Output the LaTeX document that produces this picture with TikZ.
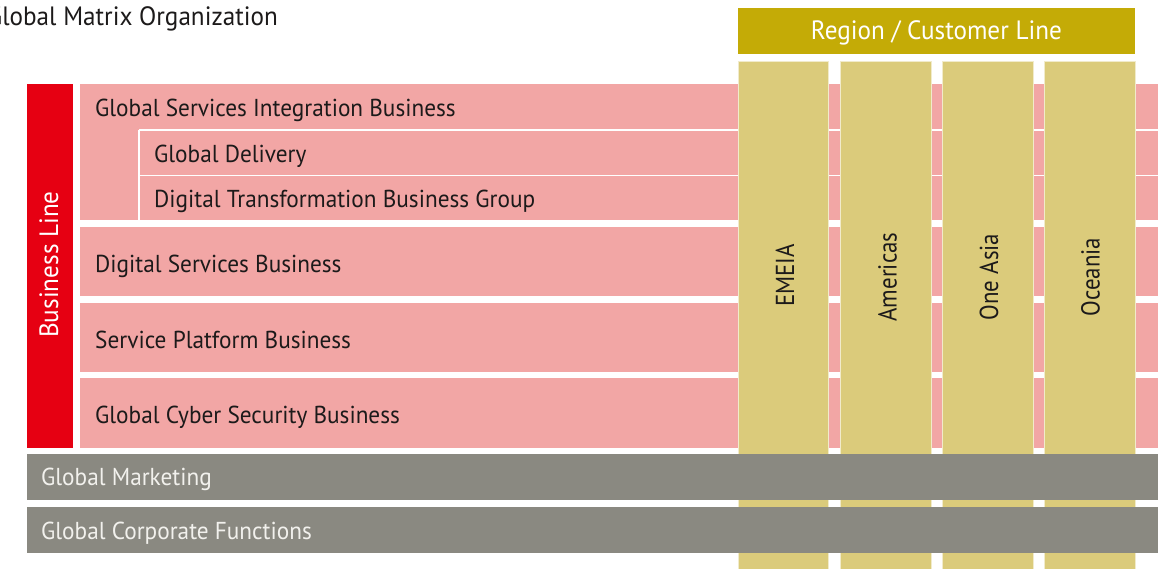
\documentclass[tikz,border=0pt]{standalone}
\usepackage{fontspec}
\setmainfont{PT Sans}[FakeStretch=0.95]
\newfontfamily\colfont{PT Sans}[FakeStretch=0.88]
\definecolor{bizred}{HTML}{E60012}
\definecolor{bizpink}{HTML}{F2A6A5}
\definecolor{regiongold}{HTML}{C4AB06}
\definecolor{colgold}{HTML}{DBCB7B}
\definecolor{colrim}{HTML}{F1EBCB}
\definecolor{corpgray}{HTML}{8A8981}
\definecolor{inkdark}{HTML}{1C1A1A}
\definecolor{inklight}{HTML}{F2F1ED}
\tikzset{
  lbl/.style={font=\fontsize{24.5}{28}\selectfont, inner sep=0pt, anchor=base west},
  rowlbl/.style={lbl, text=inkdark},
  graylbl/.style={lbl, text=inklight},
  biglbl/.style={font=\fontsize{26.5}{30}\selectfont, inner sep=0pt},
  vlbl/.style={font=\colfont\fontsize{26}{30}\selectfont, inner sep=0pt, anchor=base, rotate=90},
  pinkbox/.style={fill=bizpink, draw=none},
  graybox/.style={fill=corpgray, draw=none},
  goldcol/.style={fill=colgold, draw=colrim, line width=0.8pt},
  sep/.style={draw=white, line width=1.6pt}
}
\begin{document}
\begin{tikzpicture}[x=1pt, y=-1pt]
\useasboundingbox (0,0) rectangle (1173,569);

% title, its first letter runs past the left edge
\node[biglbl, anchor=base east, text=inkdark] (title) at (278,26) {Global Matrix Organization};

% business line rows
\fill[bizred] (27,84) rectangle (73,447.5);
\node[biglbl, anchor=base, rotate=90, text=white] (bizline) at (58,264.5) {Business Line};

\path[pinkbox] (80,84) rectangle (1158,220.5);
\draw[sep] (139,130) -- (1158,130);
\draw[sep] (139,175.5) -- (1158,175.5);
\draw[sep] (139,130) -- (139,220.5);
\path[pinkbox] (80,227) rectangle (1158,296);
\path[pinkbox] (80,303) rectangle (1158,371.5);
\path[pinkbox] (80,378) rectangle (1158,447.5);

\node[rowlbl] (gsib) at (95,117) {Global Services Integration Business};
\node[rowlbl] (gd) at (154,162.5) {Global Delivery};
\node[rowlbl] (dtbg) at (154,208) {Digital Transformation Business Group};
\node[rowlbl] (dsb) at (95,272.3) {Digital Services Business};
\node[rowlbl] (spb) at (95,348.3) {Service Platform Business};
\node[rowlbl] (gcsb) at (95,423) {Global Cyber Security Business};

% region / customer line columns
\fill[regiongold] (738,8) rectangle (1135,54);
\node[biglbl, text=white, anchor=base] (region) at (936.4,40) {Region / Customer Line};

\draw[goldcol] (738,61) rectangle (828.5,575);
\draw[goldcol] (840,61) rectangle (931,575);
\draw[goldcol] (942,61) rectangle (1033,575);
\draw[goldcol] (1044,61) rectangle (1135,575);

\node[vlbl, text=inkdark] (emeia) at (794,275.5) {EMEIA};
\node[vlbl, text=inkdark] (americas) at (896.7,277) {Americas};
\node[vlbl, text=inkdark] (asia) at (998,277) {One Asia};
\node[vlbl, text=inkdark] (oceania) at (1099.5,277) {Oceania};

% company-wide functions
\path[graybox] (27,454) rectangle (1158,500);
\path[graybox] (27,507) rectangle (1158,553);
\node[graylbl] (mkt) at (41,485.7) {Global Marketing};
\node[graylbl] (corp) at (41,539) {Global Corporate Functions};
\end{tikzpicture}
\end{document}
